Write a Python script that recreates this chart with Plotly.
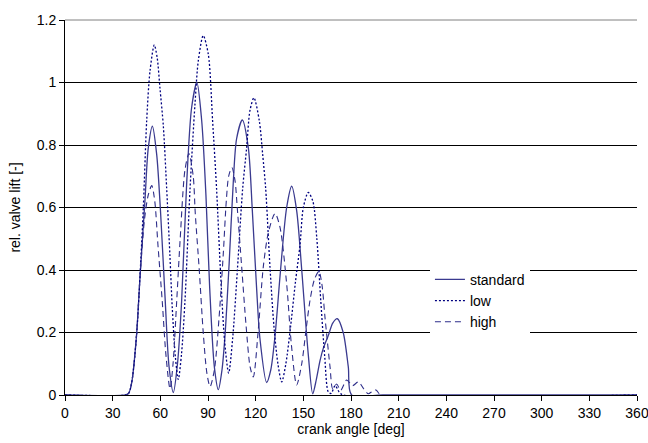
import plotly.graph_objects as go

# Relative valve lift over crank angle for three spring settings
std_angle = [0, 38, 40, 42, 45, 47.2, 50.3, 52.4, 55, 57.7, 60.2, 63, 65.5, 68.2, 70.8, 73.4,
             76.6, 79.7, 83, 86, 88.7, 91, 94, 96.5, 98.8, 100.7, 103.3, 105.9, 108, 111.6,
             115.4, 117.9, 120.5, 122.7, 126.9, 129.5, 132.2, 135.5, 139.5, 142.7, 145.8, 149,
             153.1, 155.9, 158.2, 160.5, 162.6, 165.7, 168.5, 171.4, 175.1, 178.3, 180.4, 200, 360]
std_lift = [0, 0, 0.005, 0.04, 0.19, 0.377, 0.62, 0.79, 0.86, 0.77, 0.58, 0.31, 0.09, 0.008, 0.10, 0.30,
            0.68, 0.92, 1.0, 0.88, 0.64, 0.35, 0.09, 0.017, 0.08, 0.19, 0.42, 0.68, 0.82, 0.88,
            0.79, 0.59, 0.35, 0.18, 0.04, 0.08, 0.19, 0.39, 0.60, 0.668, 0.59, 0.40,
            0.13, 0.004, 0.05, 0.11, 0.15, 0.19, 0.23, 0.244, 0.20, 0.09, 0.0, 0, 0]

low_angle = [0, 38, 40, 42, 45, 47.2, 49.3, 51.4, 53.5, 56.2, 58, 59.8, 61.9, 64, 66, 67.5, 69.5,
             71.3, 73.3, 75.5, 78.7, 81.8, 83.9, 87, 90.2, 92.9, 95.4, 98, 100.5, 103, 105.5,
             108.5, 111.8, 114.3, 116.4, 118.9, 122.3, 124.4, 126.3, 129, 131.5, 134, 136.4,
             139, 142, 145, 147.9, 150, 153.1, 156, 158.5, 161, 163.5, 165.7, 167.5, 170,
             172.5, 175, 360]
low_lift = [0, 0, 0.005, 0.04, 0.19, 0.38, 0.60, 0.877, 1.037, 1.12, 1.08, 0.98, 0.86, 0.66, 0.45, 0.28, 0.12,
            0.05, 0.13, 0.30, 0.66, 0.93, 1.07, 1.15, 1.09, 0.877, 0.66, 0.38, 0.17, 0.07, 0.18,
            0.40, 0.66, 0.79, 0.91, 0.951, 0.877, 0.77, 0.66, 0.41, 0.22, 0.10, 0.042,
            0.10, 0.22, 0.36, 0.48, 0.60, 0.648, 0.62, 0.50, 0.30, 0.12, 0.01, 0.005, 0.03,
            0.01, 0, 0]

high_angle = [0, 38, 40, 42, 45, 47.2, 50, 52.4, 54.6, 56.5, 58.5, 61.2, 63.5, 66.1, 68, 70.3,
              72.5, 75.5, 78, 80.7, 82, 84.5, 87, 89.3, 91.3, 94, 97, 99.6, 101.5, 103, 105,
              107, 108.4, 111.2, 114, 116.5, 118.5, 121.5, 124.8, 128, 132.2, 135.3, 139.5,
              142.5, 145.8, 149, 151.5, 154.2, 157, 159.8, 161.8, 163.6, 166.8, 168.5, 171,
              173.5, 177.3, 181, 184.6, 188, 190.9, 193.5, 195.7, 199, 360]
high_lift = [0, 0, 0.005, 0.04, 0.19, 0.377, 0.56, 0.64, 0.67, 0.62, 0.48, 0.30, 0.13, 0.02, 0.10, 0.30,
             0.50, 0.72, 0.773, 0.70, 0.58, 0.40, 0.20, 0.07, 0.027, 0.08, 0.25, 0.45, 0.62, 0.70, 0.728,
             0.686, 0.60, 0.41, 0.22, 0.09, 0.058, 0.20, 0.41, 0.52, 0.581, 0.537, 0.356,
             0.16, 0.032, 0.10, 0.20, 0.303, 0.37, 0.396, 0.35, 0.25, 0.09, 0.02, 0.035,
             0.015, 0.048, 0.03, 0.042, 0.02, 0.004, 0.012, 0.016, 0, 0]

x_ticks = list(range(0, 361, 30))
y_ticks = [0, 0.2, 0.4, 0.6, 0.8, 1.0, 1.2]

FONT = "Liberation Sans, Arial, sans-serif"

fig = go.Figure()
fig.add_trace(go.Scatter(x=std_angle, y=std_lift, name="standard", mode="lines",
                         line=dict(color="#3a3a8f", width=1.3, shape="spline", smoothing=0.8)))
fig.add_trace(go.Scatter(x=low_angle, y=low_lift, name="low", mode="lines",
                         line=dict(color="#000080", width=1.3, dash="2px,2px", shape="spline", smoothing=0.8)))
fig.add_trace(go.Scatter(x=high_angle, y=high_lift, name="high", mode="lines",
                         line=dict(color="#2e2e8a", width=1.1, dash="6px,4px", shape="spline", smoothing=0.8)))

fig.update_layout(
    width=648, height=443,
    margin=dict(l=65, r=11, t=20, b=48),
    paper_bgcolor="white", plot_bgcolor="white",
    font=dict(family=FONT, size=14, color="black"),
    showlegend=True,
    legend=dict(x=0.638, y=0.35, xanchor="left", yanchor="top",
                bgcolor="white", borderwidth=0, font=dict(size=14),
                itemwidth=30),
    xaxis=dict(range=[0, 360], tickvals=x_ticks, ticks="outside", ticklen=5,
               tickcolor="black", showline=True, linecolor="black", linewidth=1,
               showgrid=False, zeroline=False, automargin=False,
               ticklabeloverflow="allow",
               title=dict(text="crank angle [deg]", standoff=4, font=dict(size=14))),
    yaxis=dict(range=[0, 1.2], tickvals=y_ticks, ticks="outside", ticklen=5,
               tickcolor="black", showline=True, linecolor="black", linewidth=1,
               showgrid=True, gridcolor="black", gridwidth=1, zeroline=False, automargin=False,
               ticklabeloverflow="allow",
               title=dict(text="rel. valve lift [-]", standoff=12, font=dict(size=14))),
)

# grey frame line along the top edge of the plot area
fig.add_shape(type="line", xref="paper", yref="paper", x0=0, x1=1, y0=1, y1=1,
              line=dict(color="#808080", width=1))

fig.write_html("out.html")
